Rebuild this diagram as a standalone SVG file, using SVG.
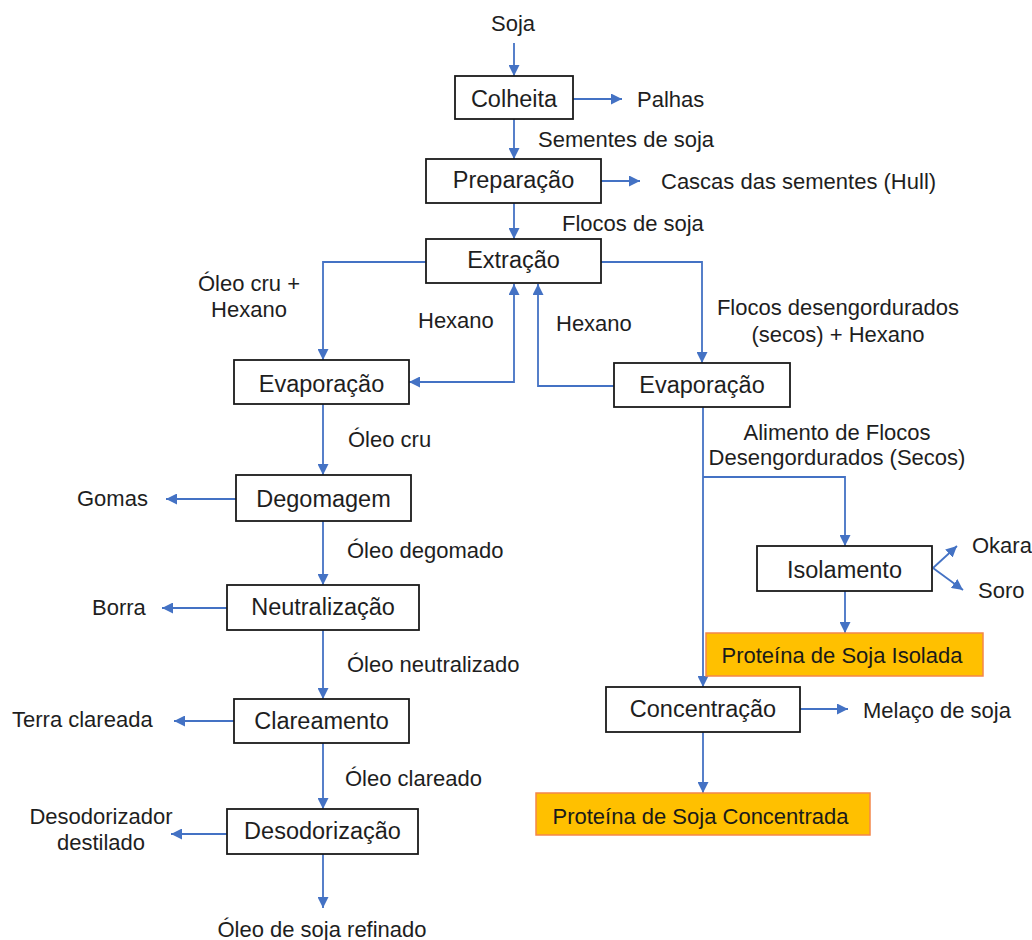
<svg xmlns="http://www.w3.org/2000/svg" width="1032" height="940" viewBox="0 0 1032 940">
<style>
.bg{fill:#ffffff}
.box rect{fill:#ffffff;stroke:#1a1a1a;stroke-width:1.8}
.box.prod rect{fill:#FFC000;stroke:#F4874B;stroke-width:1.5}
.box text{font-family:"Liberation Sans",Arial,sans-serif;font-size:23.5px;fill:#1e1e1e;text-anchor:middle}
.box.prod text{font-size:22px;fill:#1a1a1a}
.lbl{font-family:"Liberation Sans",Arial,sans-serif;font-size:22px;fill:#1e1e1e}
.mid{text-anchor:middle}
#connectors path{fill:none;stroke:#4472C4;stroke-width:1.8;marker-end:url(#arr)}
#connectors path.both{marker-start:url(#arrs)}
</style>
<defs>
<marker id="arr" viewBox="0 0 10 10" refX="10" refY="5" markerWidth="11" markerHeight="11" markerUnits="userSpaceOnUse" orient="auto">
<path d="M0,0 L10,5 L0,10 Z" fill="#4472C4"/>
</marker>
<marker id="arrs" viewBox="0 0 10 10" refX="10" refY="5" markerWidth="11" markerHeight="11" markerUnits="userSpaceOnUse" orient="auto-start-reverse">
<path d="M0,0 L10,5 L0,10 Z" fill="#4472C4"/>
</marker>
</defs>
<rect class="bg" x="0" y="0" width="1032" height="940"/>

<g id="connectors">
<path d="M514,43 V76"/>
<path d="M573,99 H622"/>
<path d="M514,119 V159"/>
<path d="M601,181 H640"/>
<path d="M514,203 V239"/>
<path d="M426,262 H323 V360"/>
<path d="M601,262 H702 V363"/>
<path class="both" d="M409,382 H514 V284"/>
<path d="M614,386 H538 V284"/>
<path d="M323,404 V475"/>
<path d="M236,499 H166"/>
<path d="M323,521 V585"/>
<path d="M227,608 H162"/>
<path d="M323,630 V699"/>
<path d="M234,721 H174"/>
<path d="M323,743 V809"/>
<path d="M227,834 H171"/>
<path d="M323,854 V908"/>
<path d="M703,407 V687"/>
<path d="M703,477 H845 V546"/>
<path d="M933,568 L957,546"/>
<path d="M933,568 L963,590"/>
<path d="M845,591 V633"/>
<path d="M800,709 H848"/>
<path d="M703,732 V793"/>
</g>

<g id="colheita" class="box"><rect x="455" y="76" width="118" height="43"/><text x="514" y="107">Colheita</text></g>
<g id="preparacao" class="box"><rect x="426" y="159" width="175" height="44"/><text x="513.5" y="188">Preparação</text></g>
<g id="extracao" class="box"><rect x="426" y="239" width="175" height="44"/><text x="513.5" y="268">Extração</text></g>
<g id="evaporacao-oleo" class="box"><rect x="234" y="360" width="175" height="44"/><text x="321.5" y="392">Evaporação</text></g>
<g id="evaporacao-flocos" class="box"><rect x="614" y="363" width="176" height="44"/><text x="702" y="393">Evaporação</text></g>
<g id="degomagem" class="box"><rect x="236" y="475" width="175" height="46"/><text x="323.5" y="507">Degomagem</text></g>
<g id="neutralizacao" class="box"><rect x="227" y="585" width="192" height="45"/><text x="323" y="615">Neutralização</text></g>
<g id="clareamento" class="box"><rect x="234" y="699" width="175" height="44"/><text x="321.5" y="729">Clareamento</text></g>
<g id="desodorizacao" class="box"><rect x="227" y="809" width="191" height="45"/><text x="322.5" y="839">Desodorização</text></g>
<g id="isolamento" class="box"><rect x="757" y="546" width="175" height="45"/><text x="844.5" y="578">Isolamento</text></g>
<g id="concentracao" class="box"><rect x="606" y="687" width="194" height="45"/><text x="703" y="717">Concentração</text></g>
<g id="proteina-isolada" class="box prod"><rect x="706" y="633" width="277" height="43"/><text x="842" y="663">Proteína de Soja Isolada</text></g>
<g id="proteina-concentrada" class="box prod"><rect x="536" y="793" width="334" height="42"/><text x="700.5" y="824">Proteína de Soja Concentrada</text></g>

<g id="labels">
<text class="lbl mid" x="513" y="31">Soja</text>
<text class="lbl" x="637" y="107">Palhas</text>
<text class="lbl" x="538" y="147">Sementes de soja</text>
<text class="lbl" x="661" y="189">Cascas das sementes (Hull)</text>
<text class="lbl" x="562" y="231">Flocos de soja</text>
<text class="lbl mid" x="249" y="291">Óleo cru +</text>
<text class="lbl mid" x="249" y="317">Hexano</text>
<text class="lbl" x="418" y="328">Hexano</text>
<text class="lbl" x="556" y="331">Hexano</text>
<text class="lbl mid" x="838" y="315">Flocos desengordurados</text>
<text class="lbl mid" x="838" y="342">(secos) + Hexano</text>
<text class="lbl" x="348" y="447">Óleo cru</text>
<text class="lbl mid" x="837" y="440">Alimento de Flocos</text>
<text class="lbl mid" x="837" y="465">Desengordurados (Secos)</text>
<text class="lbl" x="77" y="506">Gomas</text>
<text class="lbl" x="347" y="558">Óleo degomado</text>
<text class="lbl" x="972" y="553">Okara</text>
<text class="lbl" x="978" y="598">Soro</text>
<text class="lbl" x="92" y="615">Borra</text>
<text class="lbl" x="347" y="672">Óleo neutralizado</text>
<text class="lbl" x="12" y="727">Terra clareada</text>
<text class="lbl" x="863" y="718">Melaço de soja</text>
<text class="lbl" x="345" y="786">Óleo clareado</text>
<text class="lbl mid" x="101" y="824">Desodorizador</text>
<text class="lbl mid" x="101" y="850">destilado</text>
<text class="lbl mid" x="322" y="937">Óleo de soja refinado</text>
</g>
</svg>
